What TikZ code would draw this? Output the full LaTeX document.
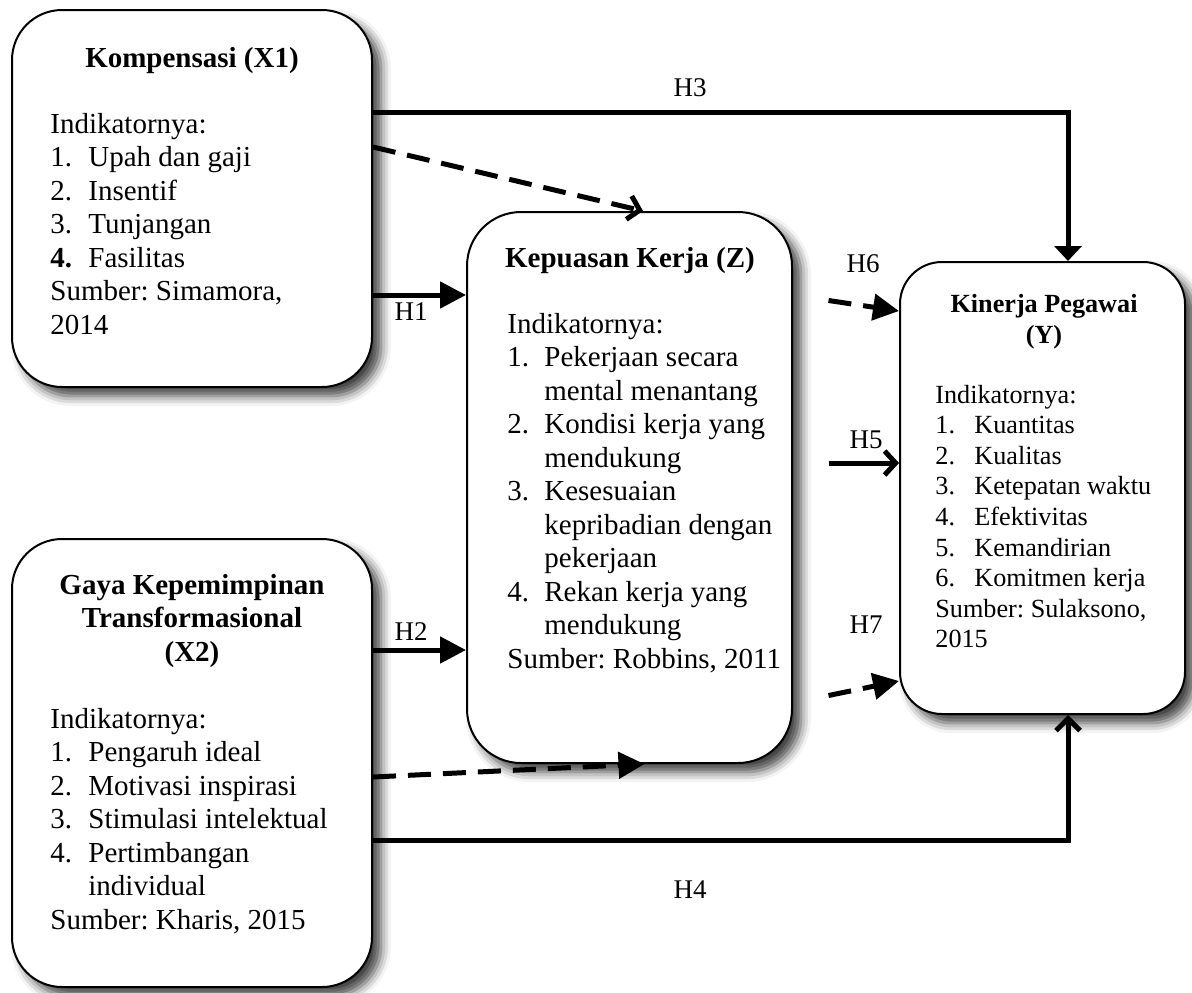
\documentclass[tikz,border=0pt]{standalone}
\usepackage{fontspec}
\setmainfont{Liberation Serif}
\usetikzlibrary{arrows.meta,shadows.blur,calc}
\frenchspacing

% text sizes: box bodies, the smaller right-hand box, hypothesis labels
\newcommand{\bodysize}{\fontsize{14.5}{16.75}\selectfont}
\newcommand{\ysize}{\fontsize{13.1}{15.3}\selectfont}
\newcommand{\labsize}{\fontsize{13.5}{16}\selectfont}

\begin{document}
\begin{tikzpicture}[x=0.5pt,y=-0.5pt,
  varbox/.style={draw, line width=1pt, fill=white, inner sep=0pt,
    blur shadow={shadow xshift=4.5pt, shadow yshift=-4.5pt,
                 shadow blur radius=5pt, shadow opacity=75}},
  titletext/.style={anchor=base, inner sep=0pt, align=center, font=\bodysize\bfseries},
  bodytext/.style={anchor=base west, inner sep=0pt, font=\bodysize},
  hlabel/.style={inner sep=0pt, font=\labsize},
  link/.style={line width=2.5pt},
  dashedlink/.style={line width=2.5pt, dash pattern=on 11.5pt off 6pt},
  filledtip/.style={-{Triangle[length=13pt,width=13pt]}},
  opentip/.style={-{Straight Barb[length=5.5pt,width=12pt]}}
]
\useasboundingbox (0,0) rectangle (1192,992);

% ---- variable boxes ----
\node[varbox, rounded corners=25pt, minimum width=180pt, minimum height=188.5pt] (x1) at (192,198.5) {};
\node[varbox, rounded corners=25pt, minimum width=180pt, minimum height=224pt] (x2) at (192,763) {};
\node[varbox, rounded corners=27pt, minimum width=162.5pt, minimum height=275.5pt] (z) at (629.5,487.5) {};
\node[varbox, rounded corners=21pt, minimum width=142.5pt, minimum height=226pt] (y) at (1042.5,488) {};

% ---- Kompensasi (X1) ----
\node[titletext] (x1title) at (192,67) {Kompensasi (X1)};
\node[bodytext] (x1body) at (50,133) {%
  \begin{tabular}[t]{@{}p{19pt}@{}l@{}}
  \multicolumn{2}{@{}l@{}}{Indikatornya:}\\
  1. & Upah dan gaji\\
  2. & Insentif\\
  3. & Tunjangan\\
  \textbf{4.} & Fasilitas\\
  \multicolumn{2}{@{}l@{}}{Sumber: Simamora,}\\
  \multicolumn{2}{@{}l@{}}{2014}
  \end{tabular}};

% ---- Gaya Kepemimpinan Transformasional (X2) ----
% (base anchor of a multi-line title sits on its last line)
\node[titletext] (x2title) at (192,661) {Gaya Kepemimpinan\\Transformasional\\(X2)};
\node[bodytext] (x2body) at (50,728) {%
  \begin{tabular}[t]{@{}p{19pt}@{}l@{}}
  \multicolumn{2}{@{}l@{}}{Indikatornya:}\\
  1. & Pengaruh ideal\\
  2. & Motivasi inspirasi\\
  3. & Stimulasi intelektual\\
  4. & Pertimbangan\\
     & individual\\
  \multicolumn{2}{@{}l@{}}{Sumber: Kharis, 2015}
  \end{tabular}};

% ---- Kepuasan Kerja (Z) ----
\node[titletext] (ztitle) at (630,267) {Kepuasan Kerja (Z)};
\node[bodytext] (zbody) at (507,333) {%
  \begin{tabular}[t]{@{}p{18.5pt}@{}l@{}}
  \multicolumn{2}{@{}l@{}}{Indikatornya:}\\
  1. & Pekerjaan secara\\
     & mental menantang\\
  2. & Kondisi kerja yang\\
     & mendukung\\
  3. & Kesesuaian\\
     & kepribadian dengan\\
     & pekerjaan\\
  4. & Rekan kerja yang\\
     & mendukung\\
  \multicolumn{2}{@{}l@{}}{Sumber: Robbins, 2011}
  \end{tabular}};

% ---- Kinerja Pegawai (Y) ----
\node[titletext, font=\ysize\bfseries] (ytitle) at (1044,343) {Kinerja Pegawai\\(Y)};
\node[bodytext, font=\ysize] (ybody) at (935,403) {%
  \begin{tabular}[t]{@{}p{19.5pt}@{}l@{}}
  \multicolumn{2}{@{}l@{}}{Indikatornya:}\\
  1. & Kuantitas\\
  2. & Kualitas\\
  3. & Ketepatan waktu\\
  4. & Efektivitas\\
  5. & Kemandirian\\
  6. & Komitmen kerja\\
  \multicolumn{2}{@{}l@{}}{Sumber: Sulaksono,}\\
  \multicolumn{2}{@{}l@{}}{2015}
  \end{tabular}};

% ---- connectors ----
% H3: X1 -> Y over the top
\coordinate (h3bend) at (1068,112);
\draw[link, -{Triangle[length=7.5pt,width=13.5pt]}]
  (x1.east |- h3bend) -- (h3bend) -- (y.north -| h3bend);
% H4: X2 -> Y along the bottom
\coordinate (h4bend) at (1068,840);
\draw[link, -{Straight Barb[length=6pt,width=12pt]}]
  (x2.east |- h4bend) -- (h4bend) -- (y.south -| h4bend);
% H1, H2: into Z
\draw[link, filledtip] ($(x1.east)+(0,96.5)$) coordinate (h1s) -- (h1s -| z.west);
\draw[link, filledtip] ($(x2.east)+(0,-113)$) coordinate (h2s) -- (h2s -| z.west);
% moderated paths towards Z
\draw[dashedlink, opentip] ($(x1.east)+(0,-51.5)$) -- ($(z.north)+(13.5,0)$);
\draw[dashedlink, filledtip] ($(x2.east)+(0,14)$) -- ($(z.south)+(15,0)$);
% Z -> Y
\draw[dashedlink, filledtip] ($(z.east)+(35.5,-187)$) -- ($(y.west)+(0,-177)$);
\draw[link, opentip] ($(z.east)+(35.5,-24.5)$) coordinate (h5s) -- (h5s -| y.west);
\draw[dashedlink, filledtip] ($(z.east)+(35.5,208)$) -- ($(y.west)+(0,193)$);

% ---- hypothesis labels ----
\node[hlabel] (lh3) at (690,88) {H3};
\node[hlabel] (lh1) at (411,312) {H1};
\node[hlabel] (lh2) at (411,632) {H2};
\node[hlabel] (lh4) at (690,890) {H4};
\node[hlabel] (lh6) at (863,264) {H6};
\node[hlabel] (lh5) at (866,440) {H5};
\node[hlabel] (lh7) at (866,625) {H7};
\end{tikzpicture}
\end{document}
